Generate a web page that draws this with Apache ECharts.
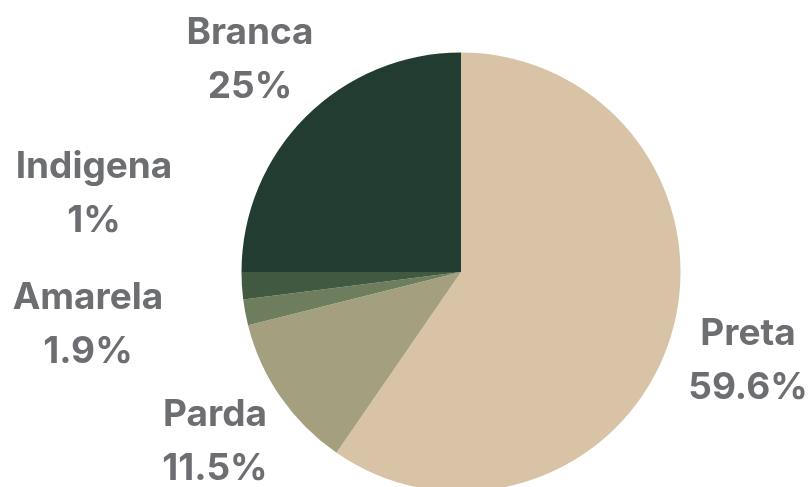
<!DOCTYPE html>
<html>
<head>
<meta charset="utf-8">
<script src="https://cdn.jsdelivr.net/npm/echarts@6/dist/echarts.min.js"></script>
<style>html,body{margin:0;padding:0;background:#fff;}#c{width:811px;height:487px;}</style>
</head>
<body>
<div id="c"></div>
<script>
// Data
const categories = ['Preta', 'Parda', 'Amarela', 'Indigena', 'Branca'];
const values = [59.6, 11.5, 1.9, 2.0, 25];
const percentLabels = ['59.6%', '11.5%', '1.9%', '1%', '25%'];
const colors = ['#d9c3a6', '#a49f7e', '#6f7d5f', '#405940', '#233c31'];

// label centres (layout, not data)
const labelPos = [[748, 361], [215, 442], [88, 325], [94, 194], [250, 60]];

const chart = echarts.init(document.getElementById('c'), null, {renderer: 'canvas'});
chart.setOption({
  animation: false,
  series: [{
    type: 'pie',
    center: [461, 272],
    radius: 219.5,
    startAngle: 90,
    clockwise: true,
    avoidLabelOverlap: false,
    data: categories.map((c, i) => ({name: c, value: values[i], itemStyle: {color: colors[i]}})),
    label: {
      show: true,
      position: 'outside',
      formatter: p => p.name + '\n' + percentLabels[p.dataIndex],
      fontFamily: 'Inter',
      fontWeight: 'bold',
      fontSize: 37,
      lineHeight: 54,
      color: '#6d6e71',
      align: 'center'
    },
    labelLine: {show: false},
    labelLayout: function (params) {
      const p = labelPos[params.dataIndex];
      return {x: p[0], y: p[1], align: 'center', verticalAlign: 'middle'};
    },
    emphasis: {disabled: true}
  }]
});
</script>
</body>
</html>
